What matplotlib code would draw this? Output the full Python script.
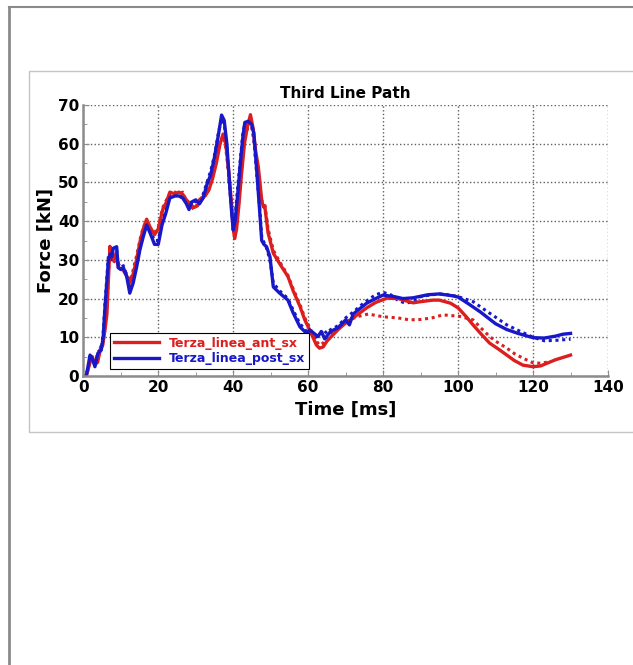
import matplotlib
matplotlib.use('Agg')
import matplotlib.pyplot as plt
from matplotlib.lines import Line2D
from matplotlib.patches import Rectangle
from matplotlib.ticker import MultipleLocator

# Terza_linea_ant_sx, solid trace
ant_t = [0, 0.8, 1.8, 2.4, 3.1, 3.8, 4.6, 5.2, 5.8, 6.3, 6.8, 7.1, 7.6, 8.2, 8.8, 9.4,
         10.5, 11.5, 12.4, 13.2, 14.2, 15.2, 16.0, 16.9, 17.8, 19.0, 20.0, 21.2, 22.2,
         23.1, 24.5, 25.5, 26.5, 27.5, 28.5, 29.5, 30.5, 31.5, 32.5, 33.5, 34.5, 35.5,
         36.5, 37.3, 38.0, 38.8, 39.5, 40.0, 40.4, 40.9, 41.5, 42.2, 43.0, 43.7, 44.6,
         45.3, 46.0, 46.7, 47.6, 48.0, 48.4, 49.3, 50.7, 52.4, 54.6, 56.0, 57.8, 59.1,
         60.4, 62.2, 63.0, 64.0, 65.0, 66.5, 68, 70, 72, 75.6, 78, 81, 84, 88, 90, 93.3,
         95, 98, 100, 102, 104, 106, 108.4, 111, 113, 115, 117.3, 120, 122, 123.5, 126,
         128, 130]
ant_f = [0, 0, 3.5, 5, 3, 3.5, 7, 8, 12, 16, 27, 33.5, 31, 30, 31.5, 28,
         27.5, 26, 24, 26, 30, 35, 38, 40.5, 38.5, 36.5, 38, 43, 45,
         47.5, 47, 47.5, 47, 45.5, 44.5, 43.5, 44, 46, 46.5, 48, 51, 55,
         60, 62.5, 60, 53, 45, 38, 35.5, 38, 44, 52, 60, 64, 67.5,
         64, 58, 54, 45.5, 43.7, 44, 37, 31.7, 29, 25.7, 22, 18, 14.5,
         11.9, 8, 7.2, 7.5, 9, 10.5, 12, 13.7, 15, 17.6, 19, 20.1, 20, 18.9, 19.2, 19.6,
         19.6, 18.8, 17.6, 15.5, 13.2, 11, 8.5, 6.8, 5.4, 4, 2.8, 2.4, 2.6, 3.2, 4.2,
         4.8, 5.4]

# Terza_linea_ant_sx, dotted trace
ant2_t = [0, 0.8, 1.8, 2.4, 3.1, 3.8, 4.6, 5.2, 5.8, 6.3, 6.8, 7.2, 7.7, 8.3, 8.9, 9.5,
          10.5, 11.5, 12.4, 13.2, 14.2, 15.2, 16.0, 16.9, 17.8, 19.0, 20.0, 21.2, 22.2,
          23.1, 24.5, 25.5, 26.5, 27.5, 28.5, 29.5, 30.5, 31.5, 32.5, 33.5, 34.5, 35.5,
          36.5, 37.3, 38.0, 38.8, 39.5, 40.0, 40.4, 40.9, 41.5, 42.2, 43.0, 43.7, 44.6,
          45.3, 46.0, 46.7, 47.3, 47.8, 48.4, 49.3, 50.7, 52.4, 54.6, 56.0, 57.8, 59.1,
          60.4, 62.2, 63.0, 64.0, 65.0, 66.5, 68, 70, 73, 76, 80, 84, 87, 90, 93, 96,
          98, 100, 102, 104, 106, 108.4, 110, 113, 115, 117.3, 120, 122, 124]
ant2_f = [0, 0, 3.8, 5, 3.2, 4, 7.5, 8.5, 13, 18, 28, 33, 30, 29.5, 31, 28.5,
          27, 26.5, 24.5, 27, 31, 35.5, 38.5, 40, 38, 37, 38.5, 43.5, 45.5,
          47, 47.5, 47, 47.5, 45, 44, 43, 44.5, 46.5, 47, 48.5, 52, 56,
          60.5, 62, 59, 52, 44, 39, 36.5, 39, 45, 53, 61, 63.5, 66.5,
          63, 57, 52, 46, 45, 44.5, 38, 32.5, 29.5, 26, 22.5, 18.5, 15,
          12.5, 9, 8, 8.5, 10, 11, 12.5, 14, 15.3, 16, 15.3, 15, 14.5, 14.6, 15, 15.8,
          15.6, 15.5, 15, 14.5, 12.5, 10.2, 9, 7.2, 5.8, 4.6, 3.4, 3.3, 3.6]

# Terza_linea_post_sx, solid trace
post_t = [0, 0.8, 1.8, 2.4, 3.1, 3.9, 4.8, 5.3, 5.8, 6.7, 7.2, 7.6, 8.0, 8.9, 9.3, 10.0,
          10.7, 11.6, 12.4, 13.3, 14.2, 15.1, 16.0, 16.9, 17.8, 19.0, 20.0, 21.0, 22.0,
          23.1, 24.5, 25.5, 26.5, 27.5, 28.2, 29.0, 30.0, 31.0, 32.0, 33.0, 34.0, 35.0,
          36.0, 36.9, 37.6, 38.3, 39.0, 39.6, 40.0, 40.5, 41.2, 42.0, 42.6, 43.1, 44.0,
          44.9, 45.5, 46.2, 47.1, 47.6, 48.2, 48.9, 49.8, 50.7, 52.4, 54.6, 56.0, 57.8,
          59.6, 60.4, 61.2, 62.6, 63.5, 64.4, 66.0, 68, 70, 71, 72, 75.6, 78, 80, 83,
          85.3, 88, 92, 95, 98.7, 100, 103, 106, 110, 113, 116, 120, 123, 126, 128, 130]
post_f = [0, 0, 5.4, 4.5, 2.4, 5.9, 6.7, 10, 17.9, 30, 31.5, 30.8, 33, 33.4, 28, 27.5,
          28, 25.6, 21.4, 24, 28, 32.6, 36, 39, 37, 34, 34, 39, 42,
          46, 46.5, 46.5, 46, 44.5, 43, 45, 45.5, 44.5, 46, 49.5, 52, 56.5,
          62, 67.4, 66, 60, 50, 42, 37.7, 40, 47, 56, 62, 65.5, 65.8,
          65, 62.8, 54, 42, 35, 34, 33.4, 30.8, 23, 21.4, 19.6, 16.3, 12.7,
          11, 11.9, 11.3, 10.2, 11.5, 9.6, 11.5, 12.5, 14.5, 13.2, 16, 18.8, 20, 20.9, 20.5,
          20, 20.2, 21, 21.2, 20.7, 20.4, 18.5, 16.5, 13.5, 12, 11, 9.9, 9.8, 10.3, 10.8, 11]

# Terza_linea_post_sx, dotted trace
post2_t = [0, 0.8, 1.8, 2.4, 3.1, 3.9, 4.8, 5.3, 5.8, 6.7, 7.2, 7.6, 8.0, 8.9, 9.3, 10.0,
           10.7, 11.6, 12.4, 13.3, 14.2, 15.1, 16.0, 16.9, 17.8, 19.0, 20.0, 21.0, 22.0,
           23.1, 24.5, 25.5, 26.5, 27.5, 28.2, 29.0, 30.0, 31.0, 32.0, 33.0, 34.0, 35.0,
           36.0, 36.9, 37.6, 38.3, 39.0, 39.6, 40.0, 40.5, 41.2, 42.0, 42.6, 43.1, 44.0,
           44.9, 45.5, 46.2, 47.1, 47.6, 48.2, 48.9, 49.8, 50.7, 52.4, 54.6, 56.0, 57.8,
           59.6, 61.0, 62.0, 63.0, 64.0, 65.0, 66.0, 68, 70, 72, 75, 78, 80, 82, 84, 86,
           88, 90, 93, 96, 100, 104, 108, 110, 113, 116, 120, 123, 126, 130]
post2_f = [0, 0, 5, 4.8, 2.8, 6.2, 7, 11, 19, 31, 32, 30, 32, 32.5, 29, 28,
           28.5, 26, 22.5, 25, 29, 33, 36.5, 38.5, 37.5, 35, 35, 39.5, 42.5,
           46.5, 47, 46, 46.5, 45, 43.5, 45.5, 45, 45, 47, 50, 53, 57,
           62.5, 66.5, 65, 59, 49, 42.5, 39, 41, 49, 57, 63, 65, 65,
           64.5, 61, 53, 43, 36, 34.5, 33, 30, 24, 22, 20, 17, 13.5,
           11.5, 11, 10, 10.5, 12, 11, 12, 13, 15, 16.5, 19, 21, 21.6, 21, 19.5, 18.8,
           19.2, 20.5, 21, 21.2, 20.5, 19.2, 16.5, 15.2, 13.2, 11.8, 10, 9.1, 9.2, 9.5]

red = '#dc1e1e'
blue = '#1818c8'

fig = plt.figure(figsize=(6.33, 6.65), dpi=100)
fig.patch.set_facecolor('white')

# page frame and chart panel
W, H = 633.0, 665.0
fig.add_artist(Line2D([9 / W, 9 / W], [0, 1 - 7 / H], color='#8a8a8a', lw=2.0))
fig.add_artist(Line2D([9 / W, 1], [1 - 7 / H, 1 - 7 / H], color='#8a8a8a', lw=1.5))
fig.add_artist(Rectangle((29 / W, 1 - 432 / H), 620 / W, 361 / H, fill=False,
                         edgecolor='#c4c4c4', lw=1.0))

ax = fig.add_axes([83.3 / W, 1 - 376 / H, 524.7 / W, 271 / H])

ax.plot(ant2_t, ant2_f, color=red, lw=2.2, ls=(0, (1, 1.2)), label='_nolegend_')
ax.plot(post2_t, post2_f, color=blue, lw=2.2, ls=(0, (1, 1.2)), label='_nolegend_')
ax.plot(ant_t, ant_f, color=red, lw=2.4, label='Terza_linea_ant_sx')
ax.plot(post_t, post_f, color=blue, lw=2.4, label='Terza_linea_post_sx')

ax.set_xlim(0, 140)
ax.set_ylim(0, 70)
ax.xaxis.set_major_locator(MultipleLocator(20))
ax.xaxis.set_minor_locator(MultipleLocator(10))
ax.yaxis.set_major_locator(MultipleLocator(10))
ax.yaxis.set_minor_locator(MultipleLocator(5))
ax.grid(True, which='major', ls=':', color='#606060', lw=1.0)

for side in ['top', 'right']:
    ax.spines[side].set_visible(False)
for side in ['left', 'bottom']:
    ax.spines[side].set_color('#8c8c8c')
    ax.spines[side].set_linewidth(1.8)

ax.tick_params(which='both', direction='in', color='#8c8c8c')
ax.tick_params(which='major', length=4, labelsize=11, pad=3)
ax.tick_params(which='minor', length=3)
for lbl in ax.get_xticklabels() + ax.get_yticklabels():
    lbl.set_fontweight('bold')

ax.set_title('Third Line Path', fontsize=11, fontweight='bold', pad=5)
ax.set_xlabel('Time [ms]', fontsize=13, fontweight='bold', labelpad=4)
ax.set_ylabel('Force [kN]', fontsize=13, fontweight='bold', labelpad=2)

leg = ax.legend(loc='lower left', bbox_to_anchor=(0.051, 0.026), borderaxespad=0,
                fancybox=False, framealpha=1, edgecolor='black',
                prop={'weight': 'bold', 'size': 9}, handlelength=3.6,
                borderpad=0.3, labelspacing=0.2, handletextpad=0.8)
leg.get_frame().set_linewidth(0.8)
for txt, c in zip(leg.get_texts(), [red, blue]):
    txt.set_color(c)

fig.savefig('out.png', dpi=100)
